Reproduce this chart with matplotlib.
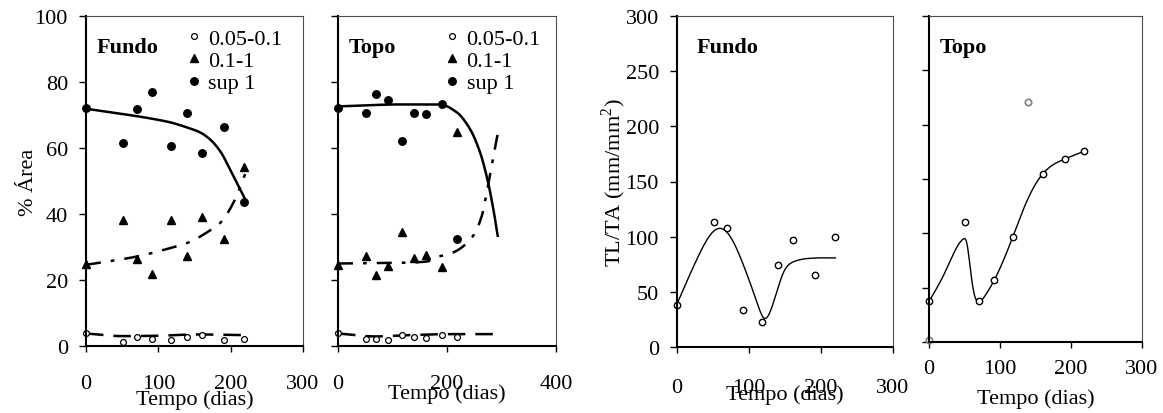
import numpy as np
import matplotlib.pyplot as plt

plt.rcParams['font.family'] = ['Liberation Serif', 'DejaVu Serif']
plt.rcParams['font.size'] = 16
plt.rcParams['mathtext.fontset'] = 'custom'
plt.rcParams['mathtext.rm'] = 'Liberation Serif'

# dias de amostragem
dias = [0, 51, 70, 91, 118, 140, 161, 191, 219]

# % area por classe de diametro - Fundo
fundo_fino = [3.9, 1.2, 2.6, 2.0, 1.9, 2.6, 3.4, 1.9, 2.2]
fundo_medio = [24.7, 38.1, 26.3, 21.8, 38.1, 27.4, 39.0, 32.4, 54.3]
fundo_grosso = [72.2, 61.5, 71.8, 77.0, 60.7, 70.5, 58.5, 66.4, 43.6]

# % area por classe de diametro - Topo
topo_fino = [3.8, 2.0, 2.0, 1.7, 3.3, 2.8, 2.5, 3.3, 2.8]
topo_medio = [24.6, 27.3, 21.6, 24.3, 34.4, 26.6, 27.6, 24.0, 65.0]
topo_grosso = [72.1, 70.6, 76.3, 74.6, 62.2, 70.6, 70.3, 73.3, 32.4]

# TL/TA
tlta_fundo = [38.4, 113, 108, 33.8, 22.7, 74.6, 97, 65.3, 99.4]
tlta_topo_dias = [0, 51, 70, 91, 118, 161, 191, 219]
tlta_topo = [37.7, 110, 37.7, 57.4, 96.3, 155, 168.7, 175.8]
excl_topo_dias = [0, 140]
excl_topo = [1.5, 221]

classes = ['0.05-0.1', '0.1-1', 'sup 1']

# curvas ajustadas
aj_fg_x = [0, 51, 88, 116, 140, 158, 171, 185, 199, 220]
aj_fg_y = [71.9, 70.3, 69.0, 67.8, 66.2, 64.7, 62.7, 59.2, 53.6, 44.5]
aj_fm_x = [0, 70, 112, 142, 167, 186, 204, 220]
aj_fm_y = [24.6, 27.1, 29.4, 31.4, 34.4, 37.4, 43.5, 52.1]
aj_ff_x = [0, 50, 100, 150, 219]
aj_ff_y = [3.8, 3.0, 3.1, 3.5, 3.3]

aj_tg_x = [0, 60, 114, 187, 218, 242, 260.6, 274, 285, 293]
aj_tg_y = [72.6, 73.0, 73.2, 73.2, 70.8, 65.8, 58.7, 50.6, 41.5, 33.4]
aj_tm_x = [0, 114, 163, 181, 212, 248, 264, 273, 282, 291, 296]
aj_tm_y = [25.0, 25.2, 25.6, 26.9, 28.4, 33.4, 39.5, 46.6, 54.6, 62.7, 65.8]
aj_tf_x = [0, 70, 130, 200, 291]
aj_tf_y = [3.8, 2.9, 3.3, 3.6, 3.6]

aj_lf_x = [0, 27.8, 55.6, 69.4, 92.6, 111, 121.3, 134, 148, 162, 185, 220]
aj_lf_y = [39, 79.8, 107, 104, 73.7, 40.5, 26, 40.5, 67.7, 77.3, 80.4, 80.7]
aj_lt_x = [0, 22.5, 48.4, 53, 60, 65, 69.5, 79, 91.5, 117.4, 135, 160, 189, 216.5]
aj_lt_y = [37.4, 64.1, 94.8, 91.7, 58, 41.1, 37.1, 42.6, 56.4, 95.7, 125.4, 154.6, 167.8, 175]


def suave(xs, ys, n=400):
    # hermite monotono por partes (sem ondulacao)
    x = np.asarray(xs, float)
    y = np.asarray(ys, float)
    h = np.diff(x)
    d = np.diff(y) / h
    m = np.zeros_like(y)
    m[0], m[-1] = d[0], d[-1]
    for k in range(1, len(y) - 1):
        if d[k - 1] * d[k] > 0:
            w1 = 2 * h[k] + h[k - 1]
            w2 = h[k] + 2 * h[k - 1]
            m[k] = (w1 + w2) / (w1 / d[k - 1] + w2 / d[k])
    xx = np.linspace(x[0], x[-1], n)
    i = np.clip(np.searchsorted(x, xx, side='right') - 1, 0, len(h) - 1)
    t = (xx - x[i]) / h[i]
    yy = ((2 * t**3 - 3 * t**2 + 1) * y[i] + (t**3 - 2 * t**2 + t) * h[i] * m[i]
          + (-2 * t**3 + 3 * t**2) * y[i + 1] + (t**3 - t**2) * h[i] * m[i + 1])
    return xx, yy


def spline(xs, ys, n=400):
    # spline cubica natural
    x = np.asarray(xs, float)
    y = np.asarray(ys, float)
    k = len(x)
    h = np.diff(x)
    A = np.zeros((k, k))
    r = np.zeros(k)
    A[0, 0] = A[-1, -1] = 1
    for i in range(1, k - 1):
        A[i, i - 1] = h[i - 1]
        A[i, i] = 2 * (h[i - 1] + h[i])
        A[i, i + 1] = h[i]
        r[i] = 6 * ((y[i + 1] - y[i]) / h[i] - (y[i] - y[i - 1]) / h[i - 1])
    M = np.linalg.solve(A, r)
    xx = np.linspace(x[0], x[-1], n)
    i = np.clip(np.searchsorted(x, xx, side='right') - 1, 0, k - 2)
    a = x[i + 1] - xx
    b = xx - x[i]
    hi = h[i]
    yy = (M[i] * a**3 / (6 * hi) + M[i + 1] * b**3 / (6 * hi)
          + (y[i] / hi - M[i] * hi / 6) * a + (y[i + 1] / hi - M[i + 1] * hi / 6) * b)
    return xx, yy


def eixos(ax, xlim, xticks, ylim, yticks, xpad, ylabels=True):
    ax.set_xlim(xlim)
    ax.set_ylim(ylim)
    ax.set_xticks(xticks)
    ax.set_yticks(yticks)
    if not ylabels:
        ax.set_yticklabels([])
    ax.tick_params(axis='x', direction='out', length=4, width=1, pad=xpad)
    ax.tick_params(axis='y', direction='out', length=5, width=1, pad=8)
    for s in ['left', 'bottom']:
        ax.spines[s].set_linewidth(1.5)
        ax.spines[s].set_color('black')
    for s in ['top', 'right']:
        ax.spines[s].set_linewidth(0.8)
        ax.spines[s].set_color('0.3')


fig = plt.figure(figsize=(11.63, 4.14), dpi=100)
ax1 = fig.add_axes([86 / 1163, 1 - 347 / 414, 217 / 1163, 330 / 414])
ax2 = fig.add_axes([338 / 1163, 1 - 347 / 414, 218 / 1163, 330 / 414])
ax3 = fig.add_axes([677 / 1163, 1 - 348 / 414, 216 / 1163, 331 / 414])
ax4 = fig.add_axes([929 / 1163, 1 - 343 / 414, 213 / 1163, 326 / 414])

traco = (0, (7, 4))
traco_ponto = (0, (6, 4, 1.5, 4))


def painel_area(ax, fino, medio, grosso, ajustes, titulo, legx):
    (fx, fy), (mx, my), (gx, gy) = ajustes
    ax.plot(*suave(fx, fy), color='black', lw=1.8, ls=traco)
    ax.plot(*suave(mx, my), color='black', lw=1.8, ls=traco_ponto)
    ax.plot(*suave(gx, gy), color='black', lw=1.8)
    h1, = ax.plot(dias, fino, 'o', ms=4.2, mfc='white', mec='black', mew=0.9,
                  clip_on=False, label=classes[0])
    h2, = ax.plot(dias, medio, '^', ms=5.8, color='black', clip_on=False,
                  label=classes[1])
    h3, = ax.plot(dias, grosso, 'o', ms=5.4, color='black', clip_on=False,
                  label=classes[2])
    ax.legend(handles=[h1, h2, h3], loc='upper left', bbox_to_anchor=(legx, 0.962),
              frameon=False, handlelength=0.6, handletextpad=0.35,
              borderpad=0, borderaxespad=0, labelspacing=0.07, fontsize=16)
    ax.text(0.05, 0.905, titulo, transform=ax.transAxes, fontweight='bold',
            va='center', ha='left', fontsize=16)


painel_area(ax1, fundo_fino, fundo_medio, fundo_grosso,
            [(aj_ff_x, aj_ff_y), (aj_fm_x, aj_fm_y), (aj_fg_x, aj_fg_y)], 'Fundo', 0.467)
eixos(ax1, (0, 300), [0, 100, 200, 300], (0, 100), range(0, 101, 20), 16)
ax1.set_ylabel('% Área')
ax1.yaxis.set_label_coords(-0.22, 0.5)
ax1.set_xlabel('Tempo (dias)')
ax1.xaxis.set_label_coords(0.5, -0.13)

painel_area(ax2, topo_fino, topo_medio, topo_grosso,
            [(aj_tf_x, aj_tf_y), (aj_tm_x, aj_tm_y), (aj_tg_x, aj_tg_y)], 'Topo', 0.493)
eixos(ax2, (0, 400), [0, 200, 400], (0, 100), range(0, 101, 20), 16, ylabels=False)
ax2.set_xlabel('Tempo (dias)')
ax2.xaxis.set_label_coords(0.5, -0.112)

# TL/TA Fundo
ax3.plot(*spline(aj_lf_x, aj_lf_y), color='black', lw=1.0)
ax3.plot(dias, tlta_fundo, 'o', ms=4.6, mfc='white', mec='black', mew=1.0, clip_on=False)
ax3.text(0.093, 0.905, 'Fundo', transform=ax3.transAxes, fontweight='bold',
         va='center', ha='left', fontsize=16)
eixos(ax3, (0, 300), [0, 100, 200, 300], (0, 300), range(0, 301, 50), 18)
ax3.set_ylabel('TL/TA (mm/mm$^2$)')
ax3.yaxis.set_label_coords(-0.225, 0.5)
ax3.set_xlabel('Tempo (dias)')
ax3.xaxis.set_label_coords(0.5, -0.112)

# TL/TA Topo
ax4.plot(*spline(aj_lt_x, aj_lt_y), color='black', lw=1.0)
ax4.plot(tlta_topo_dias, tlta_topo, 'o', ms=4.6, mfc='white', mec='black', mew=1.0,
         clip_on=False)
ax4.plot(excl_topo_dias, excl_topo, 'o', ms=4.6, mfc='white', mec='0.5', mew=1.2,
         clip_on=False)
ax4.text(0.052, 0.905, 'Topo', transform=ax4.transAxes, fontweight='bold',
         va='center', ha='left', fontsize=16)
eixos(ax4, (0, 300), [0, 100, 200, 300], (0, 300), range(0, 301, 50), 8, ylabels=False)
ax4.set_xlabel('Tempo (dias)')
ax4.xaxis.set_label_coords(0.5, -0.141)

fig.savefig('out.png', dpi=100)
